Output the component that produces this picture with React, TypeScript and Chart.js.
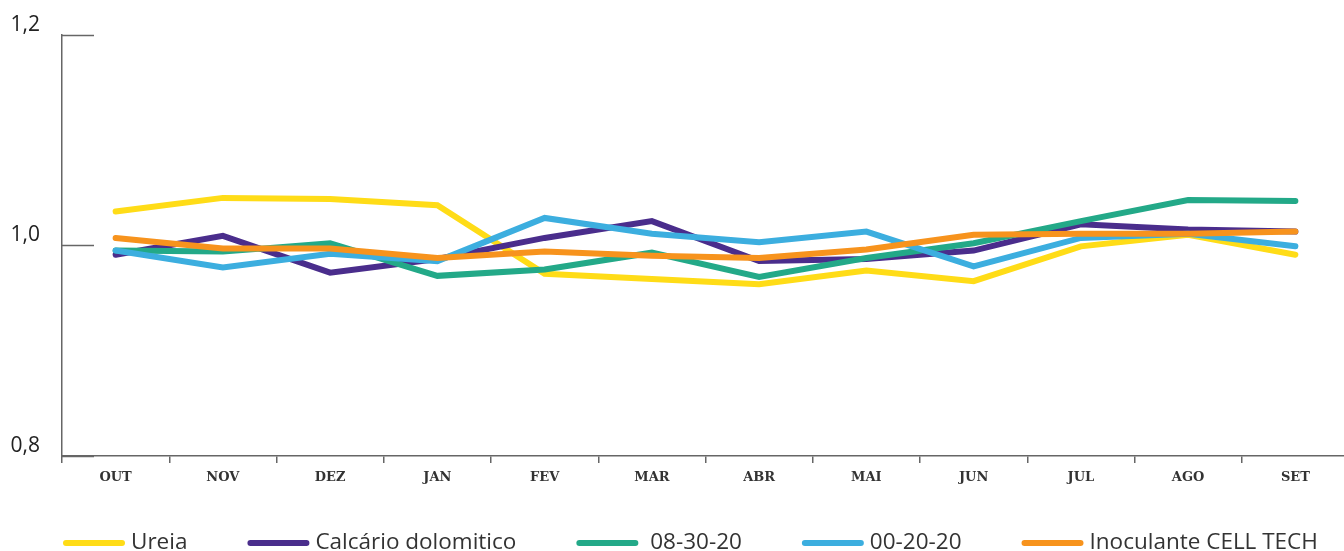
import React, { useEffect, useRef } from "react";
import { Chart, registerables } from "chart.js";

Chart.register(...registerables);

const months = ["OUT", "NOV", "DEZ", "JAN", "FEV", "MAR", "ABR", "MAI", "JUN", "JUL", "AGO", "SET"];
const ureia = [1.032, 1.045, 1.044, 1.038, 0.973, 0.968, 0.963, 0.976, 0.966, 0.999, 1.010, 0.991];
const calcario = [0.991, 1.009, 0.974, 0.987, 1.007, 1.023, 0.985, 0.987, 0.995, 1.020, 1.015, 1.013];
const npk083020 = [0.995, 0.994, 1.002, 0.971, 0.977, 0.993, 0.970, 0.988, 1.002, 1.023, 1.043, 1.042];
const npk002020 = [0.995, 0.979, 0.992, 0.985, 1.026, 1.011, 1.003, 1.013, 0.980, 1.007, 1.011, 0.999];
const inoculante = [1.007, 0.997, 0.997, 0.988, 0.994, 0.990, 0.988, 0.996, 1.010, 1.011, 1.011, 1.013];
const seriesLabels = ["Ureia", "Calcário dolomitico", " 08-30-20", "00-20-20", "Inoculante CELL TECH"];
const seriesColors = ["#FFDC17", "#4A2D8C", "#23A988", "#3CAEDF", "#F7931D"];
const yTicks = [0.8, 1.0, 1.2];

const yInnerTicks = {
  id: "yInnerTicks",
  afterDraw(chart: any) {
    const { ctx, chartArea, scales } = chart;
    ctx.save();
    ctx.strokeStyle = "#666";
    ctx.lineWidth = 1.5;
    scales.y.ticks.forEach((t: any) => {
      const py = Math.round(scales.y.getPixelForValue(t.value)) + 0.5;
      ctx.beginPath();
      ctx.moveTo(chartArea.left, py);
      ctx.lineTo(chartArea.left + 32, py);
      ctx.stroke();
    });
    ctx.restore();
  },
};

const customLegend = {
  id: "customLegend",
  afterDraw(chart: any) {
    const ctx = chart.ctx;
    ctx.save();
    ctx.font = '22.5px "Open Sans"';
    ctx.textBaseline = "alphabetic";
    ctx.textAlign = "left";
    let x = 63;
    const lineY = 543;
    const textY = 549;
    chart.data.datasets.forEach((ds: any) => {
      ctx.strokeStyle = ds.borderColor;
      ctx.lineWidth = 6;
      ctx.lineCap = "round";
      ctx.beginPath();
      ctx.moveTo(x + 3, lineY);
      ctx.lineTo(x + 59, lineY);
      ctx.stroke();
      ctx.fillStyle = "#333";
      ctx.fillText(ds.label, x + 68, textY);
      x += 68 + ctx.measureText(ds.label).width + 60;
    });
    ctx.restore();
  },
};

export default function App() {
  const ref = useRef<HTMLCanvasElement>(null);
  useEffect(() => {
    if (!ref.current) return;
    const data = [ureia, calcario, npk083020, npk002020, inoculante];
    const chart = new Chart(ref.current, {
      type: "line",
      data: {
        labels: months,
        datasets: data.map((d, i) => ({
          label: seriesLabels[i],
          data: d,
          borderColor: seriesColors[i],
          backgroundColor: seriesColors[i],
          borderWidth: 6,
          borderCapStyle: "round",
          borderJoinStyle: "miter",
          pointRadius: 0,
          tension: 0,
          fill: false,
          order: 4 - i,
        })),
      },
      options: {
        animation: false,
        responsive: false,
        devicePixelRatio: 1,
        layout: { padding: { top: 33, right: 1, bottom: 60, left: 0 } },
        plugins: { legend: { display: false }, tooltip: { enabled: false } },
        scales: {
          x: {
            type: "category",
            offset: true,
            grid: { display: true, drawOnChartArea: false, drawTicks: true, tickLength: 7, color: "#666", lineWidth: 1.5, offset: true },
            border: { display: true, color: "#666", width: 1.5 },
            ticks: { color: "#333", font: { family: "'DejaVu Serif', serif", size: 13, weight: "bold" }, padding: 7, maxRotation: 0, autoSkip: false },
            afterFit(scale: any) { scale.height = 35; },
          },
          y: {
            min: 0.8,
            max: 1.2,
            afterBuildTicks(scale: any) { scale.ticks = yTicks.map((v) => ({ value: v })); },
            grid: { display: true, drawOnChartArea: false, drawTicks: false },
            border: { display: true, color: "#666", width: 1.5 },
            ticks: {
              color: "#222",
              font: { family: "Open Sans", size: 21 },
              padding: 22,
              labelOffset: -10,
              callback: (v: any) => Number(v).toFixed(1).replace(".", ","),
            },
            afterFit(scale: any) { scale.width = 62; },
          },
        },
      },
      plugins: [yInnerTicks, customLegend],
    } as any);
    return () => chart.destroy();
  }, []);
  return (
    <div style={{ position: "absolute", left: 0, top: 0, width: 1344, height: 551, overflow: "hidden", background: "#fff" }}>
      <canvas ref={ref} width={1350} height={551} style={{ display: "block", width: 1350, height: 551 }} />
    </div>
  );
}
